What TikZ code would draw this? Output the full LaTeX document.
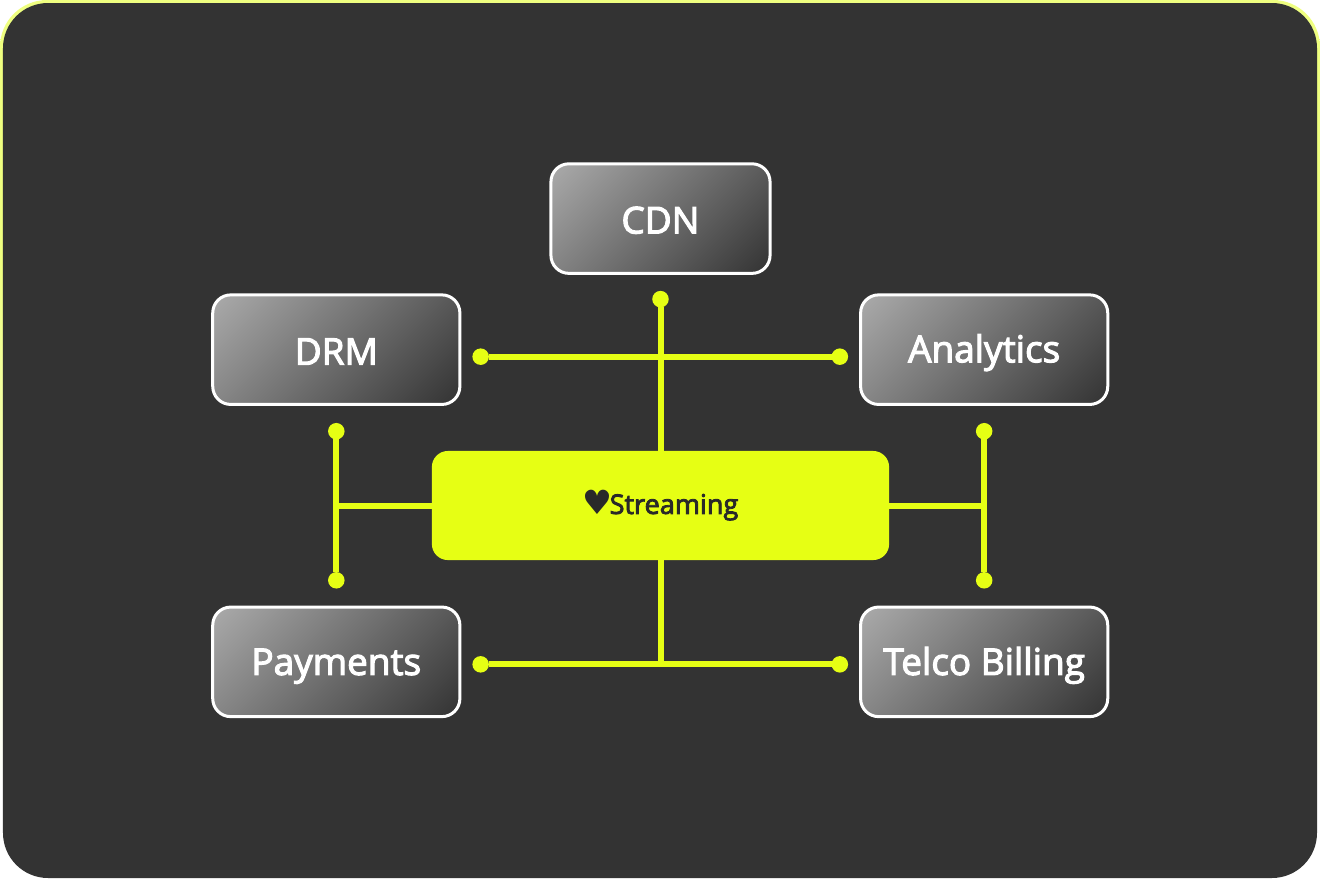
\documentclass[tikz,border=0pt]{standalone}
\usepackage{fontspec}
\newfontfamily\labelfont[FakeBold=3]{Open Sans}
\newfontfamily\symbolfont{DejaVu Sans}
\usetikzlibrary{positioning}
\definecolor{panelgray}{HTML}{333333}
\definecolor{framelime}{HTML}{EFFF80}
\definecolor{streamlime}{HTML}{E6FF14}
\definecolor{boxlight}{HTML}{AAAAAA}
\definecolor{boxdark}{HTML}{333333}
\pgfdeclareverticalshading{boxfade}{100bp}{color(0bp)=(boxdark); color(15bp)=(boxdark);
    color(85bp)=(boxlight); color(100bp)=(boxlight)}
\pgfdeclareverticalshading{framefade}{100bp}{color(0bp)=(white); color(30bp)=(white);
    color(60bp)=(framelime); color(100bp)=(framelime)}

\begin{document}
\begin{tikzpicture}[x=0.01cm, y=-0.01cm,
        box/.style={draw=white, line width=0.03cm, rounded corners=0.18cm,
                     minimum width=2.47cm, minimum height=1.095cm, inner sep=0pt, outer sep=0pt,
                     text height=0.30cm, font=\labelfont\fontsize{10.5pt}{12pt}\selectfont, text=white,
                     shade, shading=boxfade, shading angle=45},
        hub/.style={fill=streamlime, rounded corners=0.16cm, minimum width=4.57cm,
                     minimum height=1.09cm, inner sep=0pt, outer sep=0pt,
                     font=\labelfont\fontsize{7.7pt}{9pt}\selectfont, text=panelgray!80!black},
        dot/.style={circle, fill=streamlime, minimum size=0.165cm, inner sep=0pt, outer sep=0pt},
        link/.style={draw=streamlime, line width=0.06cm}
    ]
        \path[use as bounding box] (0,0) rectangle (1320,881);
        \path[shade, shading=framefade, rounded corners=0.47cm] (0,0) rectangle (1320,878);
        \fill[panelgray, rounded corners=0.45cm] (3,3) rectangle (1317,878);

        \node[hub] (stream) at (660.5,505.5) {{\symbolfont\fontsize{9.5pt}{12pt}\selectfont\char"2665}\hspace{-0.03cm}\raisebox{0.01cm}{Streaming}\hspace{0.06cm}};
        \node[box, minimum width=2.19cm, above=1.775cm of stream] (cdn) {CDN};
        \node[box, above left=0.465cm and -0.28cm of stream] (drm) {DRM};
        \node[box, text height=0.34cm, above right=0.465cm and -0.285cm of stream] (analytics) {Analytics};
        \node[box, text height=0.35cm, below left=0.47cm and -0.28cm of stream] (payments) {Payments};
        \node[box, text height=0.35cm, below right=0.47cm and -0.285cm of stream] (telco) {Telco Billing};

        \node[dot, below=0.175cm of cdn] (cdndot) {};
        \node[dot, right=0.125cm of drm, yshift=-0.07cm] (drmdot) {};
        \node[dot, left=0.125cm of analytics, yshift=-0.07cm] (analyticsdot) {};
        \node[dot, below=0.185cm of drm] (drmlow) {};
        \node[dot, above=0.185cm of payments] (paymentsup) {};
        \node[dot, below=0.185cm of analytics] (analyticslow) {};
        \node[dot, above=0.185cm of telco] (telcoup) {};
        \node[dot, right=0.125cm of payments, yshift=-0.025cm] (paymentsdot) {};
        \node[dot, left=0.125cm of telco, yshift=-0.025cm] (telcodot) {};

        \draw[link] (stream.north) -- (cdndot);
        \draw[link] (drmdot) -- (analyticsdot);
        \draw[link] (drmlow) -- (paymentsup);
        \draw[link] (analyticslow) -- (telcoup);
        \draw[link] (paymentsdot) -- (telcodot);
        \draw[link] (stream.west) -- (stream.west -| drmlow);
        \draw[link] (stream.east) -- (stream.east -| analyticslow);
        \draw[link] (stream.south) -- (stream.south |- paymentsdot);
    \end{tikzpicture}
\end{document}
